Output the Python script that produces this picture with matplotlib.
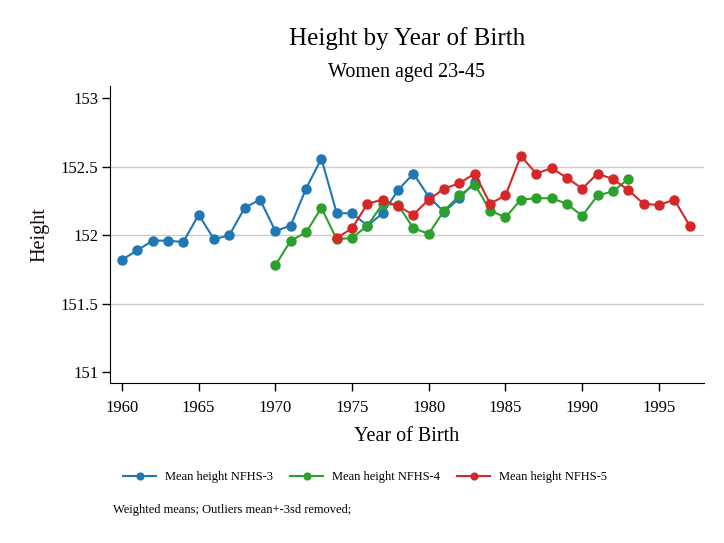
import numpy as np
import matplotlib
matplotlib.use("Agg")
import matplotlib.pyplot as plt

# NFHS-3, women born 1960-1983
years3 = list(range(1960, 1984))
height3 = [151.82, 151.89, 151.96, 151.96, 151.95, 152.15, 151.97, 152.00,
           152.20, 152.26, 152.03, 152.07, 152.34, 152.56, 152.16, 152.16,
           152.07, 152.16, 152.33, 152.45, 152.28, 152.17, 152.27, 152.39]

# NFHS-4, women born 1970-1993
years4 = list(range(1970, 1994))
height4 = [151.78, 151.96, 152.02, 152.20, 151.97, 151.98, 152.07, 152.23,
           152.22, 152.05, 152.01, 152.18, 152.29, 152.37, 152.18, 152.13,
           152.26, 152.27, 152.27, 152.23, 152.14, 152.29, 152.32, 152.41]

# NFHS-5, women born 1974-1997
years5 = list(range(1974, 1998))
height5 = [151.98, 152.05, 152.23, 152.26, 152.21, 152.15, 152.26, 152.34,
           152.38, 152.45, 152.23, 152.29, 152.58, 152.45, 152.49, 152.42,
           152.34, 152.45, 152.41, 152.33, 152.23, 152.22, 152.26, 152.07]

labels = ["Mean height NFHS-3", "Mean height NFHS-4", "Mean height NFHS-5"]
colors = ["#1f77b4", "#2ca02c", "#d62728"]

xticks = [1960, 1965, 1970, 1975, 1980, 1985, 1990, 1995]
yticks = [151, 151.5, 152, 152.5, 153]
yticklabels = ["151", "151.5", "152", "152.5", "153"]

plt.rcParams['font.family'] = ['Liberation Serif', 'DejaVu Serif']


def plotHeights():
    """
    Line plot of mean height by year of birth for the three survey rounds.
    """
    fig = plt.figure(figsize=(7.24, 5.43), dpi=100)
    ax = fig.add_axes([110 / 724, 1 - 383 / 543, 594 / 724, 297 / 543])

    for g in [151.5, 152, 152.5]:
        ax.axhline(g, color="#cccccc", lw=1, zorder=0)

    series = [(years3, height3), (years4, height4), (years5, height5)]
    for (x, y), lab, col in zip(series, labels, colors):
        ax.plot(x, y, color=col, lw=1.5, marker="o", markersize=6.5,
                label=lab, zorder=3)

    ax.set_xlim(1959.22, 1997.94)
    ax.set_ylim(150.92, 153.09)
    ax.set_xticks(xticks)
    ax.set_yticks(yticks)
    ax.set_yticklabels(yticklabels)
    ax.tick_params(labelsize=12, length=5.5, width=1, direction="out")
    ax.tick_params(axis="x", pad=7)
    ax.tick_params(axis="y", pad=3)
    ax.spines["top"].set_visible(False)
    ax.spines["right"].set_visible(False)

    ax.set_xlabel("Year of Birth", fontsize=14.5, labelpad=8)
    ax.set_ylabel("Height", fontsize=14.5, color="#1a0a14", labelpad=8)

    fig.text(407 / 724, 1 - 39 / 543, "Height by Year of Birth",
             fontsize=18, ha="center", va="center")
    fig.text(407 / 724, 1 - 72 / 543, "Women aged 23-45",
             fontsize=14.5, ha="center", va="center")

    fig.legend(loc="center", bbox_to_anchor=(365 / 724, 1 - 477 / 543),
               ncol=3, frameon=False, fontsize=9, handlelength=2.64,
               handletextpad=0.72, columnspacing=1.36, markerscale=0.75)
    fig.text(113 / 724, 1 - 510 / 543,
             "Weighted means; Outliers mean+-3sd removed;",
             fontsize=9, ha="left", va="center")

    fig.savefig("out.png", dpi=100)


def main():
    plotHeights()


if __name__ == "__main__":
    main()
